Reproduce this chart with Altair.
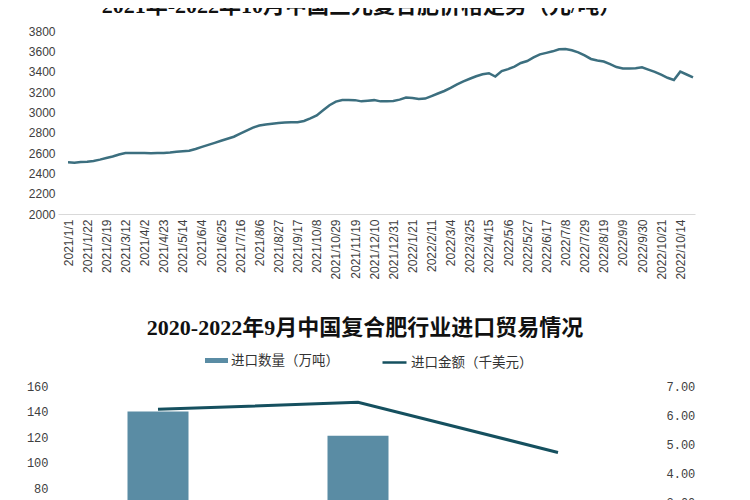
import altair as alt
import pandas as pd

# ---------------- top chart data ----------------
title_top = "2021年-2022年10月中国三元复合肥价格走势（元/吨）"
tick_labels = [
    "2021/1/1", "2021/1/22", "2021/2/19", "2021/3/12", "2021/4/2", "2021/4/23",
    "2021/5/14", "2021/6/4", "2021/6/25", "2021/7/16", "2021/8/6", "2021/8/27",
    "2021/9/17", "2021/10/8", "2021/10/29", "2021/11/19", "2021/12/10", "2021/12/31",
    "2022/1/21", "2022/2/11", "2022/3/4", "2022/3/25", "2022/4/15", "2022/5/6",
    "2022/5/27", "2022/6/17", "2022/7/8", "2022/7/29", "2022/8/19", "2022/9/9",
    "2022/9/30", "2022/10/21", "2022/10/14",
]
price = [
    2508, 2505, 2512, 2515, 2522, 2535, 2550, 2565, 2585, 2600,
    2600, 2600, 2600, 2598, 2600, 2600, 2605, 2612, 2618, 2622,
    2640, 2660, 2680, 2700, 2720, 2740, 2760, 2790, 2820, 2850,
    2870, 2880, 2888, 2895, 2900, 2902, 2902, 2915, 2940, 2970,
    3020, 3070, 3105, 3122, 3122, 3120, 3108, 3115, 3120, 3108,
    3110, 3112, 3125, 3145, 3140, 3132, 3135, 3160, 3185, 3210,
    3240, 3275, 3305, 3330, 3355, 3375, 3385, 3352, 3405, 3425,
    3450, 3485, 3505, 3540, 3570, 3585, 3600, 3620, 3622, 3610,
    3590, 3560, 3525, 3510, 3500, 3475, 3445, 3432, 3432, 3433,
    3443, 3420, 3398, 3370, 3340, 3318, 3400, 3372, 3344,
]

# ---------------- bottom chart data ----------------
title_bottom = "2020-2022年9月中国复合肥行业进口贸易情况"
years = ["2020年", "2021年", "2022年1-9月"]
qty = [140, 121, 58]          # 进口数量（万吨）
amt = [6.20, 6.44, 4.72]      # 进口金额（千美元）
qty_name = "进口数量（万吨）"
amt_name = "进口金额（千美元）"

sans = "Liberation Sans"
cjk = "Noto Sans CJK SC"
title_font = "Liberation Serif, Noto Sans CJK SC"
mono = "Liberation Mono"

# ---------------- top chart ----------------
top_df = pd.DataFrame({"week": list(range(len(price))), "price": price})
label_expr = "[" + ",".join("'%s'" % t for t in tick_labels) + "][round(datum.value / 3)]"
x_dom = [-1.57, 98.31]

top = alt.Chart(top_df).mark_line(color="#3C6F7F", strokeWidth=2.5).encode(
    x=alt.X(
        "week:Q",
        scale=alt.Scale(domain=x_dom, nice=False, zero=False),
        axis=alt.Axis(
            values=list(range(0, 3 * len(tick_labels), 3)),
            labelExpr=label_expr,
            labelAngle=-90,
            labelFont=sans,
            labelFontSize=12,
            labelColor="#404040",
            labelPadding=5,
            labelOverlap=False,
            labelBound=False,
            ticks=False,
            domain=True,
            domainColor="#D9D9D9",
            grid=False,
            title=None,
        ),
    ),
    y=alt.Y(
        "price:Q",
        scale=alt.Scale(domain=[2000, 3800], nice=False, zero=False),
        axis=alt.Axis(
            values=list(range(2000, 3801, 200)),
            format="d",
            labelFont=sans,
            labelFontSize=12,
            labelColor="#404040",
            labelPadding=3,
            labelOverlap=False,
            ticks=False,
            domain=False,
            grid=False,
            title=None,
        ),
    ),
).properties(
    width=637,
    height=183,
    title=alt.TitleParams(
        title_top, font=title_font, fontSize=22, fontWeight="bold",
        color="#111111", anchor="middle", dx=-15, offset=7,
    ),
)

# ---------------- bottom chart ----------------
bottom_df = pd.DataFrame({
    "year": years, "qty": qty, "amt": amt,
    "qname": [qty_name] * len(years), "aname": [amt_name] * len(years),
})

bars = alt.Chart(bottom_df).mark_bar().encode(
    x=alt.X(
        "year:N", sort=years,
        scale=alt.Scale(paddingInner=0.695, paddingOuter=0.3475),
        axis=alt.Axis(title=None, labelAngle=0, ticks=False, domainColor="#D9D9D9",
                      labelFont=cjk, labelFontSize=12, labelColor="#404040"),
    ),
    y=alt.Y(
        "qty:Q",
        scale=alt.Scale(domain=[0, 160], nice=False),
        axis=alt.Axis(values=list(range(0, 161, 20)), title=None, ticks=False,
                      domain=False, grid=False, labelPadding=10, labelFont=mono,
                      labelFontSize=12, labelColor="#404040", labelOverlap=False),
    ),
    fill=alt.Fill(
        "qname:N",
        scale=alt.Scale(range=["#5A8CA4"]),
        legend=alt.Legend(
            orient="none", legendX=147, legendY=-37, title=None,
            symbolType="M-1,-0.22L1,-0.22L1,0.22L-1,0.22Z", symbolSize=529,
            symbolStrokeWidth=0, labelFont=cjk, labelFontSize=13.5,
            labelColor="#333333", labelOffset=3,
        ),
    ),
)
line_b = alt.Chart(bottom_df).mark_line(strokeWidth=3).encode(
    x=alt.X("year:N", sort=years),
    y=alt.Y(
        "amt:Q",
        scale=alt.Scale(domain=[0, 7], nice=False),
        axis=alt.Axis(orient="right", values=list(range(0, 8)), format=".2f",
                      title=None, ticks=False, domain=False, grid=False,
                      labelPadding=8, labelFont=mono, labelFontSize=12,
                      labelColor="#404040", labelOverlap=False),
    ),
    stroke=alt.Stroke(
        "aname:N",
        scale=alt.Scale(range=["#15505F"]),
        legend=alt.Legend(
            orient="none", legendX=323, legendY=-37, title=None,
            symbolType="stroke", symbolSize=576, symbolStrokeWidth=2.5,
            labelFont=cjk, labelFontSize=13.5, labelColor="#333333", labelOffset=3,
        ),
    ),
)
bottom = alt.layer(bars, line_b).resolve_scale(y="independent").properties(
    width=600,
    height=204,
    title=alt.TitleParams(
        title_bottom, font=title_font, fontSize=22, fontWeight="bold",
        color="#111111", anchor="middle", dx=7, offset=9,
    ),
)

chart = (
    alt.vconcat(top, bottom, spacing=37)
    .resolve_legend(fill="independent", stroke="independent")
    .properties(
        padding={"top": -13, "left": 18, "right": 0, "bottom": 0},
        background="white",
    )
    .configure_view(strokeWidth=0)
    .configure_axis(labelOverlap=False)
)

chart.save("out.html", embed_options={"renderer": "svg", "actions": False})
